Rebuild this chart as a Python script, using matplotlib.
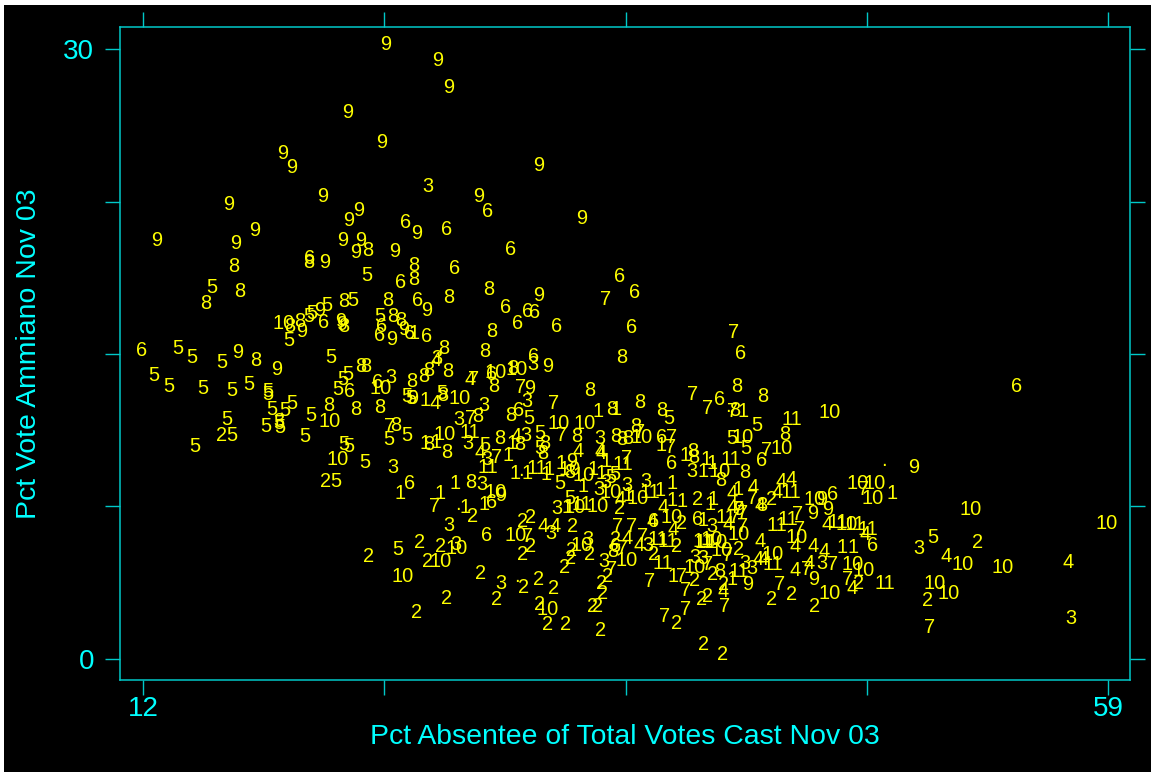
import matplotlib
matplotlib.use("Agg")
import matplotlib.pyplot as plt
from matplotlib.patches import Rectangle

x9 = [23.84,26.37,26.90,21.98,23.64,18.82,19.26,31.29,28.36,20.77,16.19,22.52,22.03,25.34,17.45,12.68,16.53,21.74,22.62,22.37,24.27,20.86,33.38,25.83,31.29,20.62,19.74,21.64,21.69,24.13,24.71,16.63,18.53,31.72,30.85,25.15,49.55,44.68,41.46,45.07,45.36,44.63,41.0,32.89,29.43]
y9 = [30.34,29.56,28.23,27.0,25.52,24.98,24.25,24.39,22.87,22.87,22.43,22.18,21.69,21.05,21.15,20.70,20.51,20.70,20.70,20.07,20.16,19.62,21.74,17.26,18.0,17.26,16.23,16.72,16.53,15.79,16.28,15.15,14.36,14.46,13.38,12.93,9.54,4.03,3.74,7.92,7.47,7.23,7.43,9.79,8.16]
x3 = [25.88,26.32,24.08,28.61,30.70,27.39,30.99,27.83,28.75,30.65,34.26,24.18,18.62,28.51,26.90,27.24,29.43,31.87,33.67,34.45,35.57,36.50,34.21,34.55,32.16,38.74,39.71,38.88,39.27,36.59,41.32,41.66,45.07,49.79,57.19]
y3 = [23.36,14.90,13.92,12.59,12.74,11.90,14.56,10.72,9.93,11.07,10.92,9.54,11.80,8.70,6.64,5.75,3.79,6.25,5.95,4.87,8.65,8.85,8.41,8.80,7.52,9.34,6.59,5.11,5.02,5.70,4.77,4.53,4.77,5.51,2.07]
x6 = [28.80,24.81,26.76,29.92,20.13,27.15,24.52,25.39,35.23,35.96,29.68,30.26,30.75,31.09,32.16,35.77,41.12,25.83,23.64,23.54,25.00,20.81,11.95,31.04,28.95,23.40,22.08,30.31,40.10,54.56,37.23,37.76,42.14,25.00,28.75,28.95,45.60,47.55,36.84,39.03,34.99]
y6 = [22.13,21.59,21.20,20.26,19.82,19.28,18.64,17.75,18.89,18.10,17.41,16.62,17.21,17.16,16.43,16.38,15.10,15.98,16.43,16.03,16.13,16.67,15.25,15.0,14.11,13.72,13.23,12.34,12.88,13.52,10.97,9.69,9.84,8.75,6.15,7.77,8.21,5.66,6.84,6.98,5.61]
x8 = [20.08,22.96,25.20,25.20,16.43,16.72,15.07,26.90,28.85,23.93,21.79,19.65,19.16,21.79,24.18,24.57,29.0,26.66,28.66,35.33,17.50,22.62,22.86,26.85,25.93,25.69,25.10,29.09,33.77,26.61,40.93,42.19,21.06,22.37,23.54,36.20,34.84,37.28,29.92,28.30,24.32,36.01,40.83,43.27,25.93,26.80,29.39,30.36,31.58,31.48,33.14,35.03,35.33,35.62,38.79,38.83,30.02,41.32,40.15,42.14,27.97,34.89,40.10,32.80]
y8 = [19.62,20.21,19.43,18.74,19.38,18.15,17.56,17.90,18.25,17.75,17.66,16.72,16.43,16.43,16.92,16.77,16.23,15.39,15.20,14.95,14.80,14.46,14.46,14.26,14.31,13.97,13.77,13.48,13.28,13.08,13.48,13.03,12.59,12.39,12.49,12.69,12.39,12.34,12.05,12.0,11.56,11.51,12.34,11.16,10.67,10.23,10.92,10.67,10.72,10.18,11.02,11.02,10.87,10.92,10.28,10.03,14.41,9.29,8.90,7.67,8.80,5.36,4.38,9.29]
x5 = [15.36,22.91,22.23,20.96,20.08,20.23,23.54,19.11,13.70,14.39,15.85,21.16,12.54,13.27,14.92,16.33,17.16,18.09,18.09,19.26,18.92,18.28,18.62,18.67,17.99,20.18,16.09,16.33,14.53,19.89,21.79,22.03,22.81,21.40,21.98,21.74,21.50,24.87,25.05,23.98,24.86,26.56,30.80,28.66,31.33,31.33,37.62,41.90,40.68,41.37,24.42,50.47,32.31,32.80,34.99,34.79]
y5 = [18.39,18.98,17.71,17.46,16.92,17.11,16.92,15.74,15.39,14.95,14.66,14.95,14.02,13.48,13.38,13.28,13.62,13.23,13.13,12.64,12.34,12.39,11.66,11.46,11.51,12.05,11.90,11.07,10.53,11.02,10.67,10.57,9.74,8.85,14.07,13.82,13.33,13.0,12.93,10.87,11.07,13.18,11.95,10.62,11.21,10.47,11.95,11.56,10.92,10.43,5.46,6.05,8.71,8.0,9.15,9.0]
x7 = [34.55,40.78,38.74,39.47,30.41,31.97,28.12,27.93,24.03,32.40,29.24,36.20,37.76,37.71,35.57,42.39,26.22,30.75,35.13,35.77,36.35,35.33,34.84,36.69,38.25,38.40,38.40,37.42,40.34,50.28,43.02,44.29,45.60,46.33,39.51,40.49,41.69,41.0,41.22,41.22,40.83,47.07,43.89,43.99,40.73]
y7 = [17.80,16.18,13.13,12.44,13.43,12.64,13.82,11.95,11.51,11.07,10.03,11.26,10.97,10.48,9.98,10.33,7.62,6.10,6.59,6.59,6.10,5.51,4.48,3.93,4.13,3.48,2.51,2.21,2.70,1.67,3.74,4.48,4.72,4.03,4.72,5.21,7.97,7.43,7.23,6.59,7.08,8.41,7.18,6.49,12.25]
x4 = [27.93,26.27,26.22,28.41,30.17,33.19,34.26,34.30,31.48,32.07,35.23,37.32,36.79,40.68,41.72,43.07,43.56,42.88,40.68,42.05,40.49,45.31,47.16,42.05,43.75,44.63,45.16,41.95,42.19,43.75,44.43,46.54,40.25,51.10,57.05,36.16,35.57,37.81]
y4 = [13.82,14.80,12.64,10.23,11.02,10.28,10.28,10.18,6.59,6.59,7.92,7.57,6.84,8.26,8.51,8.85,8.95,8.31,7.57,7.67,6.69,6.69,6.20,5.90,5.61,5.61,5.36,4.97,4.97,4.43,4.77,3.54,3.44,5.16,4.82,5.66,6.0,6.49]
x2 = [23.0,25.49,26.48,25.84,25.34,26.80,28.07,28.46,29.24,30.46,30.85,30.47,30.85,30.51,31.24,31.97,31.29,31.72,32.60,34.26,33.87,34.16,34.40,34.35,34.60,32.55,32.84,32.89,33.77,32.94,39.32,40.20,37.96,39.22,39.51,40.25,38.87,39.76,36.84,38.0,41.0,35.23,43.57,42.63,44.71,46.87,50.23,52.62,38.25,42.63,34.99,15.85,20.91,39.03]
y2 = [5.16,5.85,5.61,4.87,2.36,3.05,7.13,4.28,3.0,6.84,7.08,5.26,5.61,3.59,4.03,3.54,2.80,1.77,1.77,1.52,2.70,2.66,3.30,3.79,4.13,4.62,5.02,5.41,5.26,6.59,0.79,0.33,1.82,3.0,3.15,3.74,3.98,4.23,5.26,5.61,5.46,7.52,3.29,3.0,2.70,3.79,2.95,5.85,6.74,7.92,5.95,11.07,8.85,7.92]
x10 = [18.87,21.11,21.50,23.59,29.19,30.21,27.44,32.26,33.53,26.71,36.30,45.46,43.12,41.22,40.10,46.82,47.65,47.55,44.73,46.28,43.85,42.68,46.58,47.07,45.46,52.32,51.89,53.88,58.95,50.57,51.25,24.66,26.51,27.29,29.19,30.13,31.72,33.38,35.57,38.88,39.71,41.0,39.95,40.2,32.80,33.48,36.10,34.79,33.04,34.16,37.76]
y10 = [16.62,11.80,9.93,13.38,14.21,14.36,12.89,11.70,11.70,11.12,10.97,12.20,10.43,10.97,9.34,8.71,8.71,7.97,7.92,6.69,6.05,5.26,4.72,4.43,3.30,7.47,4.72,4.62,6.74,3.79,3.34,4.13,4.87,5.51,8.31,6.15,2.51,5.70,4.92,4.62,5.96,6.20,5.85,5.41,9.40,9.10,7.97,8.31,7.57,7.58,7.08]
x1 = [25.2,25.73,34.16,35.03,25.73,26.27,29.77,29.97,30.12,30.70,31.77,24.52,26.46,27.19,27.68,28.61,32.36,31.63,33.91,33.43,34.55,34.3,37.76,37.76,38.25,39.76,38.40,37.23,39.42,39.71,39.27,35.62,37.18,32.65,41.22,41.0,39.61,39.27,48.48,40.68,46.04,46.58,37.81]
y1 = [16.13,12.79,12.25,12.39,10.72,10.77,10.13,10.72,9.20,9.20,9.44,8.26,8.26,8.75,7.57,7.72,9.69,9.15,9.40,8.56,9.79,9.2,8.75,7.87,7.82,7.92,10.13,10.62,9.89,9.69,9.34,8.12,8.36,7.57,12.29,8.41,7.72,6.93,8.26,4.03,5.56,5.56,4.13]
x11 = [27.93,28.80,31.19,35.38,36.69,33.38,43.62,40.63,43.56,42.88,43.41,45.85,46.67,47.31,48.14,41.0,42.68,39.37,37.32,37.08,37.57,39.27,40.37]
y11 = [11.26,9.54,9.49,9.64,8.31,7.72,11.90,9.89,8.31,6.64,6.98,6.83,6.69,6.49,3.79,4.38,4.72,5.85,4.77,5.95,5.9,5.90,7.08]
x_dot = [48.09,27.34,30.22,30.42,40.49]
y_dot = [9.84,7.68,4.14,9.35,12.54]

label_groups = [("9",x9,y9),("3",x3,y3),("6",x6,y6),("8",x8,y8),("5",x5,y5),("7",x7,y7),("4",x4,y4),("2",x2,y2),("10",x10,y10),("1",x1,y1),("11",x11,y11),(".",x_dot,y_dot)]
x_ticks = [12,23.75,35.5,47.25,59]
y_ticks = [0,7.5,15,22.5,30]
x_ticklabels = ["12","","","","59"]
y_ticklabels = ["0","","","","30"]

W, H = 1151, 772
plt.rcParams['font.family'] = ['Liberation Sans', 'DejaVu Sans']
fig = plt.figure(figsize=(W/100, H/100), dpi=100, facecolor='white')
fig.add_artist(Rectangle((4/W, 0), (W-4)/W, (H-5)/H, transform=fig.transFigure, facecolor='black', edgecolor='none', zorder=-5))
ax = fig.add_axes([120/W, 1-680.3/H, (1129.7-120)/W, (680.3-26.7)/H], facecolor='black')
ax.set_xlim(10.88, 60.05)
ax.set_ylim(-1.05, 31.10)
frame = '#00c8c8'
cy = '#00ffff'
for s in ax.spines.values():
    s.set_color(frame); s.set_linewidth(1.1)
ax.set_xticks(x_ticks); ax.set_xticklabels(x_ticklabels)
ax.set_yticks(y_ticks); ax.set_yticklabels(y_ticklabels, rotation=0)
ax.tick_params(axis='both', which='major', direction='out', length=10.5, width=1.0, color=frame,
               labelcolor=cy, labelsize=20, top=True, right=True)
ax.tick_params(axis='x', pad=1)
ax.tick_params(axis='y', pad=8)
ax.set_xlabel("Pct Absentee of Total Votes Cast Nov 03", color=cy, fontsize=20.4, labelpad=1.5)
ax.set_ylabel("Pct Vote Ammiano Nov 03", color=cy, fontsize=20.4, labelpad=15)
for lab, xs, ys in label_groups:
    for a, b in zip(xs, ys):
        ax.text(a, b, lab, color='#ffff00', fontsize=14.4, ha='center', va='center_baseline')
fig.savefig("out.png", dpi=100, facecolor=fig.get_facecolor())
